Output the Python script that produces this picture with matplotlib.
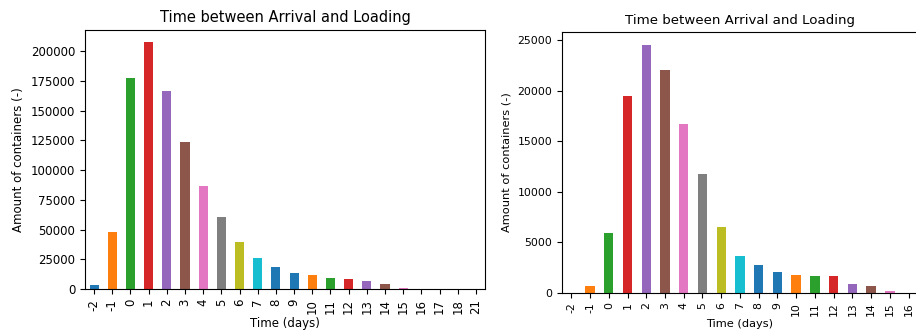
import matplotlib.pyplot as plt

# days between arrival and loading, two data sets
days_all = ["-2", "-1", "0", "1", "2", "3", "4", "5", "6", "7", "8", "9",
            "10", "11", "12", "13", "14", "15", "16", "17", "18", "21"]
count_all = [3600, 47600, 177400, 207500, 166600, 123400, 86600, 60400,
             39300, 25900, 18700, 13600, 11700, 9700, 8600, 6400, 4500,
             1100, 250, 120, 60, 30]

days_sub = ["-2", "-1", "0", "1", "2", "3", "4", "5", "6", "7", "8", "9",
            "10", "11", "12", "13", "14", "15", "16"]
count_sub = [20, 660, 5950, 19450, 24570, 22070, 16710, 11780, 6550, 3620,
             2700, 2070, 1710, 1610, 1610, 890, 660, 130, 20]

tab = plt.rcParams["axes.prop_cycle"].by_key()["color"]
bar_colors = tab + [tab[0]] + tab + tab

fig = plt.figure(figsize=(9.16, 3.33), dpi=100)
ax1 = fig.add_axes([0.0928, 0.132, 0.4367, 0.778])
ax2 = fig.add_axes([0.6135, 0.121, 0.3886, 0.782])

# the second panel was exported a bit smaller, so its text is smaller
for ax, days, counts, fs, ls, ts in [(ax1, days_all, count_all, 8.5, 8.5, 10.5),
                                     (ax2, days_sub, count_sub, 7.8, 8.2, 9.6)]:
    x = range(len(days))
    ax.bar(x, counts, width=0.5, color=bar_colors[:len(days)])
    ax.set_xticks(list(x))
    ax.set_xticklabels(days, rotation=90, fontsize=fs)
    ax.set_xlim(-0.5, len(days) - 0.5)
    ax.tick_params(axis="y", labelsize=fs)
    ax.set_title("Time between Arrival and Loading", fontsize=ts)
    ax.set_xlabel("Time (days)", fontsize=ls, labelpad=2)
    ax.set_ylabel("Amount of containers (-)", fontsize=ls)

fig.savefig("out.png", dpi=100)
